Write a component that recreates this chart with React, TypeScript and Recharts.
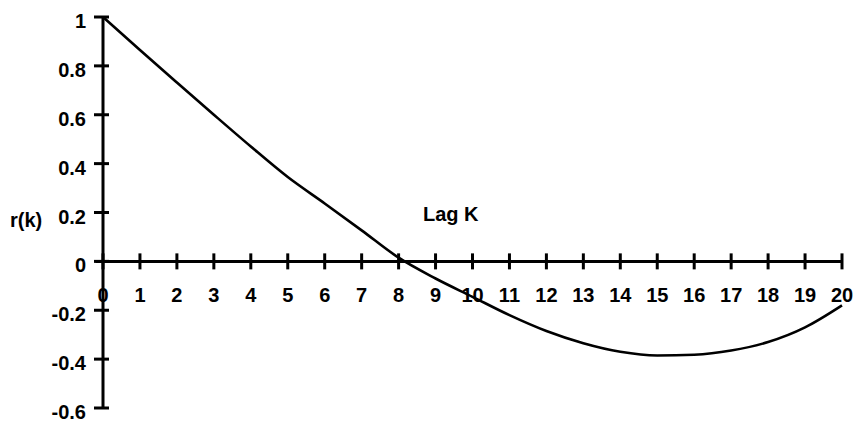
import React from 'react';
import { ComposedChart, Line, XAxis, YAxis, Scatter, ReferenceLine } from 'recharts';

const lags = [0, 1, 2, 3, 4, 5, 6, 7, 8, 9, 10, 11, 12, 13, 14, 15, 16, 17, 18, 19, 20];
const rk = [1.0, 0.865, 0.732, 0.6, 0.47, 0.345, 0.237, 0.127, 0.015, -0.07, -0.145, -0.22, -0.285, -0.335, -0.37, -0.385, -0.382, -0.365, -0.33, -0.27, -0.18];
const yTicks = [-0.6, -0.4, -0.2, 0, 0.2, 0.4, 0.6, 0.8, 1];
const yTickLabels = ['-0.6', '-0.4', '-0.2', '0', '0.2', '0.4', '0.6', '0.8', '1'];

const data = lags.map((k, i) => ({ k, r: rk[i] }));
const xTickData = lags.map((k) => ({ k, r: 0 }));

const FONT = '"Liberation Sans", Arial, Helvetica, sans-serif';
const FS = 20;

const YTick = (props: any) => {
  const { x, y, payload } = props;
  const idx = yTicks.indexOf(payload.value);
  const label = idx >= 0 ? yTickLabels[idx] : String(payload.value);
  return (
    <g>
      <line x1={x - 9} x2={x + 6} y1={y} y2={y} stroke="#000" strokeWidth={3} />
      <text x={x - 17} y={y + 11} textAnchor="end" fontFamily={FONT} fontWeight="bold" fontSize={FS} fill="#000">
        {label}
      </text>
    </g>
  );
};

const XTickShape = (props: any) => {
  const { cx, cy, payload } = props;
  return (
    <g>
      <line x1={cx} x2={cx} y1={cy - 8} y2={cy + 8} stroke="#000" strokeWidth={3} />
      <text x={cx} y={cy + 41} textAnchor="middle" fontFamily={FONT} fontWeight="bold" fontSize={FS} fill="#000">
        {String(payload.k)}
      </text>
    </g>
  );
};

export default function App() {
  return (
    <div style={{ position: 'absolute', left: 0, top: 0, width: 856, height: 423, background: '#fff' }}>
      <ComposedChart width={856} height={423} data={data} margin={{ top: 17, right: 14, bottom: 15, left: 0 }}>
        <XAxis dataKey="k" type="number" domain={[0, 20]} hide />
        <YAxis
          type="number"
          domain={[-0.6, 1]}
          ticks={yTicks}
          width={103}
          interval={0}
          axisLine={{ stroke: '#000', strokeWidth: 3 }}
          tickLine={false}
          tickSize={0}
          tickMargin={0}
          tick={<YTick />}
          label={{ value: 'r(k)', position: 'insideLeft', offset: 10, dy: 7, style: { fontFamily: FONT, fontWeight: 'bold', fontSize: FS, fill: '#000' } }}
        />
        <ReferenceLine
          segment={[{ x: -0.2, y: 0 }, { x: 20, y: 0 }]}
          ifOverflow="visible"
          stroke="#000"
          strokeWidth={3}
        />
        <Scatter data={xTickData} dataKey="r" shape={<XTickShape />} isAnimationActive={false} />
        <Line type="monotone" dataKey="r" stroke="#000" strokeWidth={2.6} dot={false} isAnimationActive={false} />
        <text x={423} y={221} fontFamily={FONT} fontWeight="bold" fontSize={FS} fill="#000">Lag K</text>
      </ComposedChart>
    </div>
  );
}
